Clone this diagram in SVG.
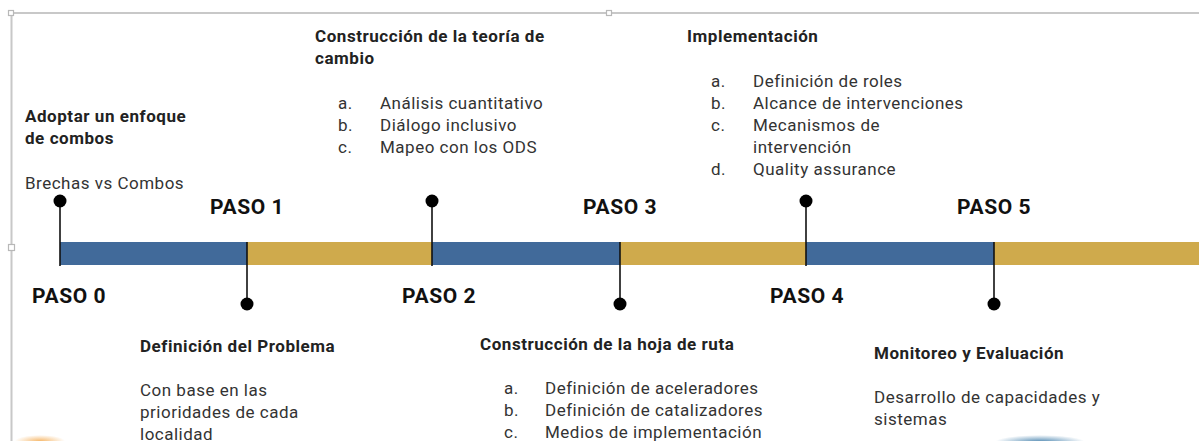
<svg xmlns="http://www.w3.org/2000/svg" width="1199" height="441" viewBox="0 0 1199 441">
<defs>
<style>
text{font-family:Roboto,"Liberation Sans",sans-serif;fill:#222}
.h{font-size:17px;font-weight:bold;letter-spacing:0.55px}
.t{font-size:17px;fill:#333;letter-spacing:0.5px}
.p{font-size:21px;font-weight:bold;fill:#111;letter-spacing:0.6px}
.frame{stroke:#c8c8c8;stroke-width:2;fill:none}
.handle{stroke:#b8b8b8;stroke-width:1.2;fill:#fff}
.stem{stroke:#111;stroke-width:1.6}
.dot{fill:#000}
.blue{fill:#416A9A}
.gold{fill:#CFAA4C}
</style>
<radialGradient id="g1"><stop offset="0" stop-color="#f4a84a" stop-opacity="0.8"/><stop offset="1" stop-color="#f4a84a" stop-opacity="0"/></radialGradient>
<radialGradient id="g2"><stop offset="0" stop-color="#3a7aa8" stop-opacity="0.9"/><stop offset="1" stop-color="#3a7aa8" stop-opacity="0"/></radialGradient>
</defs>
<rect width="1199" height="441" fill="#fff"/>
<g id="frame">
<line class="frame" x1="14" y1="13" x2="1199" y2="13"/>
<line class="frame" x1="11.5" y1="16" x2="11.5" y2="441"/>
<rect class="handle" x="8.5" y="10.5" width="5" height="5"/>
<rect class="handle" x="606.5" y="10.5" width="5" height="5"/>
<rect class="handle" x="8.5" y="244.5" width="6" height="6"/>
</g>
<ellipse cx="40" cy="441" rx="25" ry="6" fill="url(#g1)"/>
<ellipse cx="1040" cy="442" rx="45" ry="7" fill="url(#g2)"/>
<g id="timeline">
<rect class="blue" x="60" y="242" width="187" height="23"/>
<rect class="gold" x="247" y="242" width="185" height="23"/>
<rect class="blue" x="432" y="242" width="188" height="23"/>
<rect class="gold" x="620" y="242" width="186" height="23"/>
<rect class="blue" x="806" y="242" width="188" height="23"/>
<rect class="gold" x="994" y="242" width="205" height="23"/>
</g>
<g id="connectors">
<line class="stem" x1="60" y1="201" x2="60" y2="266"/>
<line class="stem" x1="432" y1="201" x2="432" y2="266"/>
<line class="stem" x1="806" y1="201" x2="806" y2="266"/>
<line class="stem" x1="247" y1="242" x2="247" y2="304"/>
<line class="stem" x1="620" y1="242" x2="620" y2="304"/>
<line class="stem" x1="994" y1="242" x2="994" y2="304"/>
<circle class="dot" cx="60" cy="201" r="6.5"/>
<circle class="dot" cx="432" cy="201" r="6.5"/>
<circle class="dot" cx="806" cy="201" r="6.5"/>
<circle class="dot" cx="247" cy="304" r="6.5"/>
<circle class="dot" cx="620" cy="304" r="6.5"/>
<circle class="dot" cx="994" cy="304" r="6.5"/>
</g>
<g id="paso0">
<text class="p" x="32" y="303">PASO 0</text>
<text class="h" x="25" y="122">Adoptar un enfoque</text>
<text class="h" x="25" y="144">de combos</text>
<text class="t" x="25" y="189">Brechas vs Combos</text>
</g>
<g id="paso1">
<text class="p" x="210" y="214">PASO 1</text>
<text class="h" x="140" y="352">Definición del Problema</text>
<text class="t" x="140" y="396">Con base en las</text>
<text class="t" x="140" y="418">prioridades de cada</text>
<text class="t" x="140" y="440">localidad</text>
</g>
<g id="paso2">
<text class="p" x="402" y="303">PASO 2</text>
<text class="h" x="315" y="42">Construcción de la teoría de</text>
<text class="h" x="315" y="64">cambio</text>
<text class="t" x="338" y="109">a.</text><text class="t" x="380" y="109">Análisis cuantitativo</text>
<text class="t" x="338" y="131">b.</text><text class="t" x="380" y="131">Diálogo inclusivo</text>
<text class="t" x="338" y="153">c.</text><text class="t" x="380" y="153">Mapeo con los ODS</text>
</g>
<g id="paso3">
<text class="p" x="583" y="214">PASO 3</text>
<text class="h" x="480" y="350">Construcción de la hoja de ruta</text>
<text class="t" x="504" y="394">a.</text><text class="t" x="545" y="394">Definición de aceleradores</text>
<text class="t" x="504" y="416">b.</text><text class="t" x="545" y="416">Definición de catalizadores</text>
<text class="t" x="504" y="438">c.</text><text class="t" x="545" y="438">Medios de implementación</text>
</g>
<g id="paso4">
<text class="p" x="770" y="303">PASO 4</text>
<text class="h" x="687" y="42">Implementación</text>
<text class="t" x="711" y="87">a.</text><text class="t" x="753" y="87">Definición de roles</text>
<text class="t" x="711" y="109">b.</text><text class="t" x="753" y="109">Alcance de intervenciones</text>
<text class="t" x="711" y="131">c.</text><text class="t" x="753" y="131">Mecanismos de</text>
<text class="t" x="753" y="153">intervención</text>
<text class="t" x="711" y="175">d.</text><text class="t" x="753" y="175">Quality assurance</text>
</g>
<g id="paso5">
<text class="p" x="957" y="214">PASO 5</text>
<text class="h" x="874" y="359">Monitoreo y Evaluación</text>
<text class="t" x="874" y="403">Desarrollo de capacidades y</text>
<text class="t" x="874" y="425">sistemas</text>
</g>
</svg>
